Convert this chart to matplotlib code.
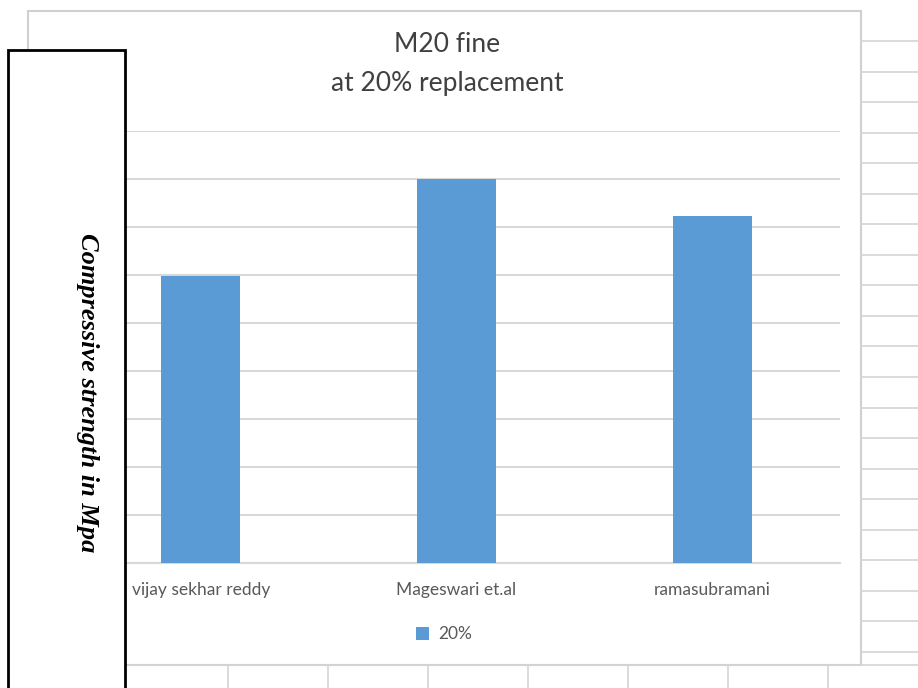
import matplotlib
matplotlib.use("Agg")
import matplotlib.pyplot as plt
from matplotlib.patches import Rectangle
from matplotlib.lines import Line2D

categories = ["vijay sekhar reddy", "Mageswari et.al", "ramasubramani"]
values_20 = [29.9, 40.0, 36.1]
series_name = "20%"
title_lines = ["M20 fine", "at 20% replacement"]
ylabel = "Compressive strength in Mpa"

W, H = 918, 688
fig = plt.figure(figsize=(W / 100, H / 100), dpi=100)
fig.patch.set_facecolor("white")

def fx(x):
    return x / W

def fy(y):
    return 1 - y / H

# spreadsheet background grid (decoration)
gcol = "#d4d4d4"
for i in range(21):
    y = 41 + i * 30.55
    fig.add_artist(Line2D([fx(861), 1], [fy(y), fy(y)], color=gcol, lw=1.2))
fig.add_artist(Line2D([fx(125), 1], [fy(665), fy(665)], color=gcol, lw=1.2))
for x in [228, 328, 428, 528, 628, 728, 828]:
    fig.add_artist(Line2D([fx(x), fx(x)], [fy(665), 0], color=gcol, lw=1.2))

# chart area border
fig.add_artist(Rectangle((fx(28), fy(665)), fx(861 - 28), (665 - 11) / H,
                         fill=True, facecolor="white", edgecolor="#d0d0d0", lw=1.5, zorder=1))

ax = fig.add_axes([fx(73), fy(563), fx(840 - 73), (563 - 131) / H], zorder=2)
ax.set_facecolor("none")
x = range(len(categories))
ax.bar(x, values_20, width=0.31, color="#5B9BD5", zorder=3, label=series_name)
ax.set_xlim(-0.5, len(categories) - 0.5)
ax.set_ylim(0, 45)
ax.set_yticks(range(0, 46, 5))
ax.yaxis.grid(True, color="#d9d9d9", lw=1.5, zorder=0)
ax.tick_params(axis="y", length=0, labelleft=False)
ax.tick_params(axis="x", length=0, pad=14)
ax.set_xticks(list(x))
ax.set_xticklabels(categories, fontsize=12.5, color="#595959", family="Lato")
for s in ["top", "right", "left"]:
    ax.spines[s].set_visible(False)
ax.spines["bottom"].set_color("#d9d9d9")
ax.spines["bottom"].set_linewidth(1.5)

leg = ax.legend(loc="center", bbox_to_anchor=(fx(444 - 73) / fx(840 - 73), -0.165),
                frameon=False, handlelength=0.75, handleheight=0.75, handletextpad=0.5,
                prop={"family": "Lato", "size": 12.5})
for t in leg.get_texts():
    t.set_color("#595959")

fig.text(fx(447), fy(45), title_lines[0], ha="center", va="center",
         fontsize=19, color="#404040", family="Lato", zorder=5)
fig.text(fx(447), fy(83), title_lines[1], ha="center", va="center",
         fontsize=19, color="#404040", family="Lato", zorder=5)

# left label box
fig.add_artist(Rectangle((fx(8), fy(689)), fx(125 - 8), (689 - 50) / H,
                         fill=True, facecolor="white", edgecolor="black", lw=2, zorder=10))
fig.text(fx(87), fy(393), ylabel, rotation=-90, ha="center", va="center",
         fontsize=19, fontweight="bold", fontstyle="italic",
         family="Liberation Serif", color="black", zorder=11)

fig.savefig("out.png", dpi=100, facecolor="white")
